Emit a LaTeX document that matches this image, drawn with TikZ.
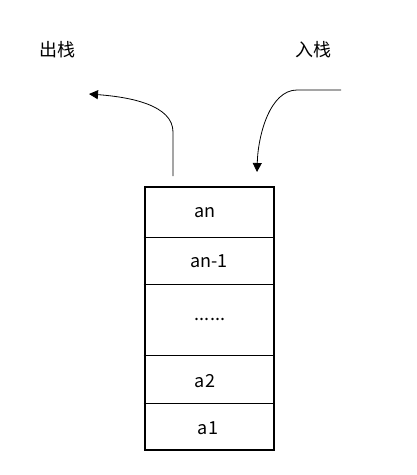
\documentclass[tikz,border=0pt]{standalone}
\usepackage{fontspec}
\setmainfont{Noto Sans CJK SC}
\usetikzlibrary{arrows.meta}

\begin{document}
\begin{tikzpicture}[x=1pt,y=-1pt, every node/.style={font=\fontsize{18}{21}\selectfont}]
    \useasboundingbox (0,0) rectangle (416,475);
    \node[draw, line width=2pt, minimum width=129pt, minimum height=263pt, inner sep=0pt] (stack) at (209,318) {};
    \draw[line width=0.9pt] (stack.west |- 0,237) -- (275,237);
    \draw[line width=0.9pt] (stack.west |- 0,284) -- (275,284);
    \draw[line width=0.9pt] (stack.west |- 0,355) -- (275,355);
    \draw[line width=0.9pt] (stack.west |- 0,403) -- (275,403);
    \node (an) at (205,213) {an};
    \node (an1) at (209,261) {an-1};
    \node (dots) at (210,319) {......};
    \node (a2) at (205,381) {a2};
    \node (a1) at (208,428) {a1};
    \node (pop) at (57,50) {出栈};
    \node (push) at (313,50) {入栈};
    \coordinate (popstart) at (173,176);
    \coordinate (popend) at (89,94);
    \coordinate (pushstart) at (341,90);
    \coordinate (pushend) at (257,172);
    \draw[-{Triangle[length=9pt,width=9pt]}, line width=0.8pt] (popstart) -- (173,132) .. controls (173,105) and (130,97) .. (popend);
    \draw[-{Triangle[length=9pt,width=9pt]}, line width=0.8pt] (pushstart) -- (297,90) .. controls (270,90) and (258,135) .. (pushend);
\end{tikzpicture}
\end{document}
